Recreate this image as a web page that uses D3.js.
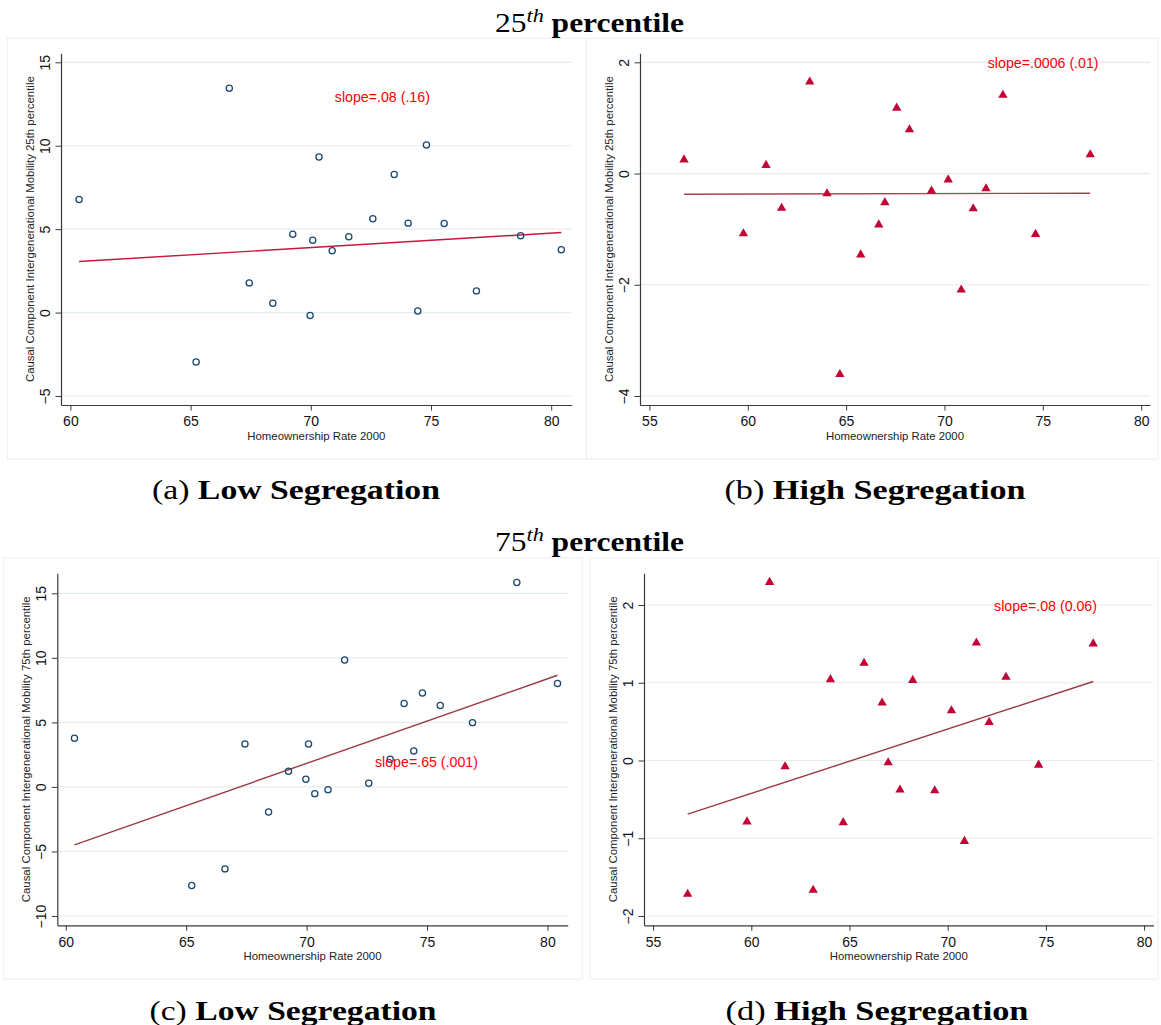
<!DOCTYPE html>
<html>
<head>
<meta charset="utf-8">
<script src="https://cdn.jsdelivr.net/npm/d3@7"></script>
<style>
  html, body { margin: 0; padding: 0; background: #ffffff; }
  svg { display: block; }
</style>
</head>
<body>
<div id="chart"></div>
<script>
// ---------------- DATA ----------------
// Homeownership Rate 2000 (x) for low-segregation group (panels a, c)
const lowX = [60.36, 65.23, 66.61, 67.44, 68.42, 69.25, 69.97, 70.08, 70.34, 70.89,
              71.58, 72.58, 73.47, 74.05, 74.45, 74.81, 75.55, 76.89, 78.73, 80.42];
// Panel (a): causal component, 25th percentile, low segregation
const lowY25 = [6.78, -2.96, 13.44, 1.78, 0.56, 4.70, -0.18, 4.34, 9.32, 3.70,
                4.54, 5.62, 8.28, 5.36, 0.10, 10.04, 5.34, 1.30, 4.60, 3.76];
// Panel (c): causal component, 75th percentile, low segregation
const lowY75 = [3.77, -7.64, -6.35, 3.33, -1.94, 1.21, 0.59, 3.33, -0.52, -0.21,
                9.84, 0.28, 2.14, 6.46, 2.79, 7.28, 6.30, 4.98, 15.83, 8.01];

// Homeownership Rate 2000 (x) for high-segregation group (panels b, d)
const highX = [56.76, 59.78, 60.93, 61.72, 63.15, 64.03, 64.68, 65.74, 66.66, 66.97,
               67.57, 68.22, 69.34, 70.19, 70.85, 71.46, 72.11, 72.97, 74.63, 77.41];
// Panel (b): 25th percentile, high segregation
const highY25 = [0.26, -1.07, 0.16, -0.61, 1.66, -0.35, -3.60, -1.45, -0.91, -0.51,
                 1.19, 0.80, -0.30, -0.10, -2.08, -0.62, -0.26, 1.42, -1.08, 0.35];
// Panel (d): 75th percentile, high segregation
const highY75 = [-1.71, -0.78, 2.30, -0.07, -1.66, 1.05, -0.79, 1.26, 0.75, -0.02,
                 -0.37, 1.04, -0.38, 0.65, -1.03, 1.52, 0.50, 1.08, -0.05, 1.51];

// Fitted regression line values at min and max x
const fitA = [3.06, 4.80];
const fitB = [-0.372, -0.354];
const fitC = [-4.49, 8.65];
const fitD = [-0.69, 1.016];

// Tick labels
const xTicksLow = [60, 65, 70, 75, 80];
const xTicksHigh = [55, 60, 65, 70, 75, 80];
const yTicksA = [-5, 0, 5, 10, 15];
const yTicksB = [-4, -2, 0, 2];
const yTicksC = [-10, -5, 0, 5, 10, 15];
const yTicksD = [-2, -1, 0, 1, 2];

// Text
const slopeLabels = ["slope=.08 (.16)", "slope=.0006 (.01)", "slope=.65 (.001)", "slope=.08 (0.06)"];
const slopeLabelPos = [[71.0, 12.94], [72.2, 1.98], [72.84, 1.96], [72.36, 1.99]];
const yTitles = ["Causal Component Intergenerational Mobility 25th percentile",
                 "Causal Component Intergenerational Mobility 25th percentile",
                 "Causal Component Intergenerational Mobility 75th percentile",
                 "Causal Component Intergenerational Mobility 75th percentile"];
const xTitle = "Homeownership Rate 2000";
const captionLetters = ["(a)", "(b)", "(c)", "(d)"];
const captionNames = ["Low Segregation", "High Segregation", "Low Segregation", "High Segregation"];
const headerNums = ["25", "75"];

// ---------------- LAYOUT ----------------
const W = 1161, H = 1025;
const svg = d3.select("#chart").append("svg")
  .attr("width", W).attr("height", H)
  .attr("viewBox", `0 0 ${W} ${H}`);

const SANS = "'Liberation Sans', Arial, Helvetica, sans-serif";
const SERIF = "'Liberation Serif', 'Times New Roman', serif";
const GRID = "#e3edf0";
const AXIS = "#3a3a3a";
const NAVY = "#1a476f";
const CRAN = "#c10534";

const panels = [
  { box: [7.3, 38.3, 586.7, 459], xAxisPx: [61, 571.7], yAxisPx: [405, 53.3],
    xT: xTicksLow, xTpx: [70.4, 551.2], yT: yTicksA, yTpx: [396, 62.3],
    xs: lowX, ys: lowY25, fit: fitA, marker: "circle", fitColor: "#c8163f" },
  { box: [586.7, 38.3, 1158, 459], xAxisPx: [640, 1150], yAxisPx: [405, 53.3],
    xT: xTicksHigh, xTpx: [649.4, 1141.2], yT: yTicksB, yTpx: [396, 62.3],
    xs: highX, ys: highY25, fit: fitB, marker: "triangle", fitColor: "#a8434e" },
  { box: [3.3, 558, 582.7, 979], xAxisPx: [57.3, 567.7], yAxisPx: [925.3, 573.3],
    xT: xTicksLow, xTpx: [65.8, 547.4], yT: yTicksC, yTpx: [916, 593.3],
    xs: lowX, ys: lowY75, fit: fitC, marker: "circle", fitColor: "#9a3a42" },
  { box: [590, 558, 1158, 979], xAxisPx: [644, 1153.5], yAxisPx: [925.3, 573.3],
    xT: xTicksHigh, xTpx: [653.1, 1144.1], yT: yTicksD, yTpx: [916, 605],
    xs: highX, ys: highY75, fit: fitD, marker: "triangle", fitColor: "#9a3a42" }
];

panels.forEach((p, i) => {
  const g = svg.append("g");

  // panel frame
  g.append("rect")
    .attr("x", p.box[0]).attr("y", p.box[1])
    .attr("width", p.box[2] - p.box[0]).attr("height", p.box[3] - p.box[1])
    .attr("fill", "#ffffff").attr("stroke", "#e8eff1").attr("stroke-width", 1);

  // scales calibrated on first/last ticks, then extended to axis-line extents
  const x0 = d3.scaleLinear().domain([p.xT[0], p.xT[p.xT.length - 1]]).range(p.xTpx);
  const y0 = d3.scaleLinear().domain([p.yT[0], p.yT[p.yT.length - 1]]).range(p.yTpx);
  const x = d3.scaleLinear().domain([x0.invert(p.xAxisPx[0]), x0.invert(p.xAxisPx[1])]).range(p.xAxisPx);
  const y = d3.scaleLinear().domain([y0.invert(p.yAxisPx[0]), y0.invert(p.yAxisPx[1])]).range(p.yAxisPx);

  const left = p.xAxisPx[0], right = p.xAxisPx[1];
  const bottom = p.yAxisPx[0], top = p.yAxisPx[1];

  // gridlines
  g.append("g").selectAll("line").data(p.yT).join("line")
    .attr("x1", left).attr("x2", right)
    .attr("y1", d => y(d)).attr("y2", d => y(d))
    .attr("stroke", GRID).attr("stroke-width", 1.2);

  // x axis
  const xAxis = d3.axisBottom(x).tickValues(p.xT).tickSizeInner(5.5).tickSizeOuter(0).tickPadding(6)
    .tickFormat(d3.format("d"));
  const gx = g.append("g").attr("transform", `translate(0,${bottom})`).call(xAxis);
  gx.select(".domain").attr("stroke", AXIS).attr("stroke-width", 1.2);
  gx.selectAll(".tick line").attr("stroke", AXIS).attr("stroke-width", 1);
  gx.selectAll(".tick text").attr("font-family", SANS).attr("font-size", 14).attr("fill", "#111")
    .attr("dy", "0.71em");

  // y axis (labels rotated)
  const yAxis = d3.axisLeft(y).tickValues(p.yT).tickSizeInner(5.5).tickSizeOuter(0).tickFormat(d3.format("d"));
  const gy = g.append("g").attr("transform", `translate(${left},0)`).call(yAxis);
  gy.select(".domain").attr("stroke", AXIS).attr("stroke-width", 1.2);
  gy.selectAll(".tick line").attr("stroke", AXIS).attr("stroke-width", 1);
  gy.selectAll(".tick text")
    .attr("x", null).attr("dy", null)
    .attr("transform", "translate(-11.5,0) rotate(-90)")
    .attr("text-anchor", "middle")
    .attr("font-family", SANS).attr("font-size", 14).attr("fill", "#111");

  // axis titles
  g.append("text")
    .attr("x", (left + right) / 2).attr("y", bottom + 34.7)
    .attr("text-anchor", "middle")
    .attr("font-family", SANS).attr("font-size", 11.4).attr("fill", "#222")
    .text(xTitle);
  g.append("text")
    .attr("transform", `translate(${left - 27},${(top + bottom) / 2}) rotate(-90)`)
    .attr("text-anchor", "middle")
    .attr("font-family", SANS).attr("font-size", 11.4).attr("fill", "#222")
    .text(yTitles[i]);

  // fitted line
  const xmin = d3.min(p.xs), xmax = d3.max(p.xs);
  g.append("line")
    .attr("x1", x(xmin)).attr("y1", y(p.fit[0]))
    .attr("x2", x(xmax)).attr("y2", y(p.fit[1]))
    .attr("stroke", p.fitColor).attr("stroke-width", 1.4);

  // points
  const pts = p.xs.map((v, k) => [v, p.ys[k]]);
  if (p.marker === "circle") {
    g.append("g").selectAll("circle").data(pts).join("circle")
      .attr("cx", d => x(d[0])).attr("cy", d => y(d[1])).attr("r", 3.1)
      .attr("fill", "none").attr("stroke", NAVY).attr("stroke-width", 1.25);
  } else {
    const tri = d3.symbol().type(d3.symbolTriangle).size(38);
    g.append("g").selectAll("path").data(pts).join("path")
      .attr("d", tri)
      .attr("transform", d => `translate(${x(d[0])},${y(d[1]) + 0.6})`)
      .attr("fill", CRAN);
  }

  // slope annotation
  g.append("text")
    .attr("x", x(slopeLabelPos[i][0])).attr("y", y(slopeLabelPos[i][1]) + 5)
    .attr("font-family", SANS).attr("font-size", 14.2).attr("fill", "#ff0000")
    .text(slopeLabels[i]);
});

// captions (widened to the reference's extended serif)
const capPos = [[296, 499], [875, 499], [293, 1020], [877, 1020]];
const capWidth = [288, 301, 287, 303];
capPos.forEach((c, i) => {
  const t = svg.append("text")
    .attr("x", c[0]).attr("y", c[1])
    .attr("text-anchor", "middle")
    .attr("font-family", SERIF).attr("font-size", 28).attr("fill", "#000")
    .attr("textLength", capWidth[i]).attr("lengthAdjust", "spacingAndGlyphs");
  t.append("tspan").text(captionLetters[i] + " ");
  t.append("tspan").attr("font-weight", "bold").text(captionNames[i]);
});

// section headers
const headY = [31.7, 550.5];
headerNums.forEach((n, i) => {
  const t = svg.append("text")
    .attr("x", 589.5).attr("y", headY[i])
    .attr("text-anchor", "middle")
    .attr("font-family", SERIF).attr("font-size", 27).attr("fill", "#000")
    .attr("textLength", 189).attr("lengthAdjust", "spacingAndGlyphs");
  t.append("tspan").text(n);
  t.append("tspan").attr("font-style", "italic").attr("font-size", 19).attr("dy", -10).text("th");
  t.append("tspan").attr("font-weight", "bold").attr("dy", 10).text(" percentile");
});
</script>
</body>
</html>
